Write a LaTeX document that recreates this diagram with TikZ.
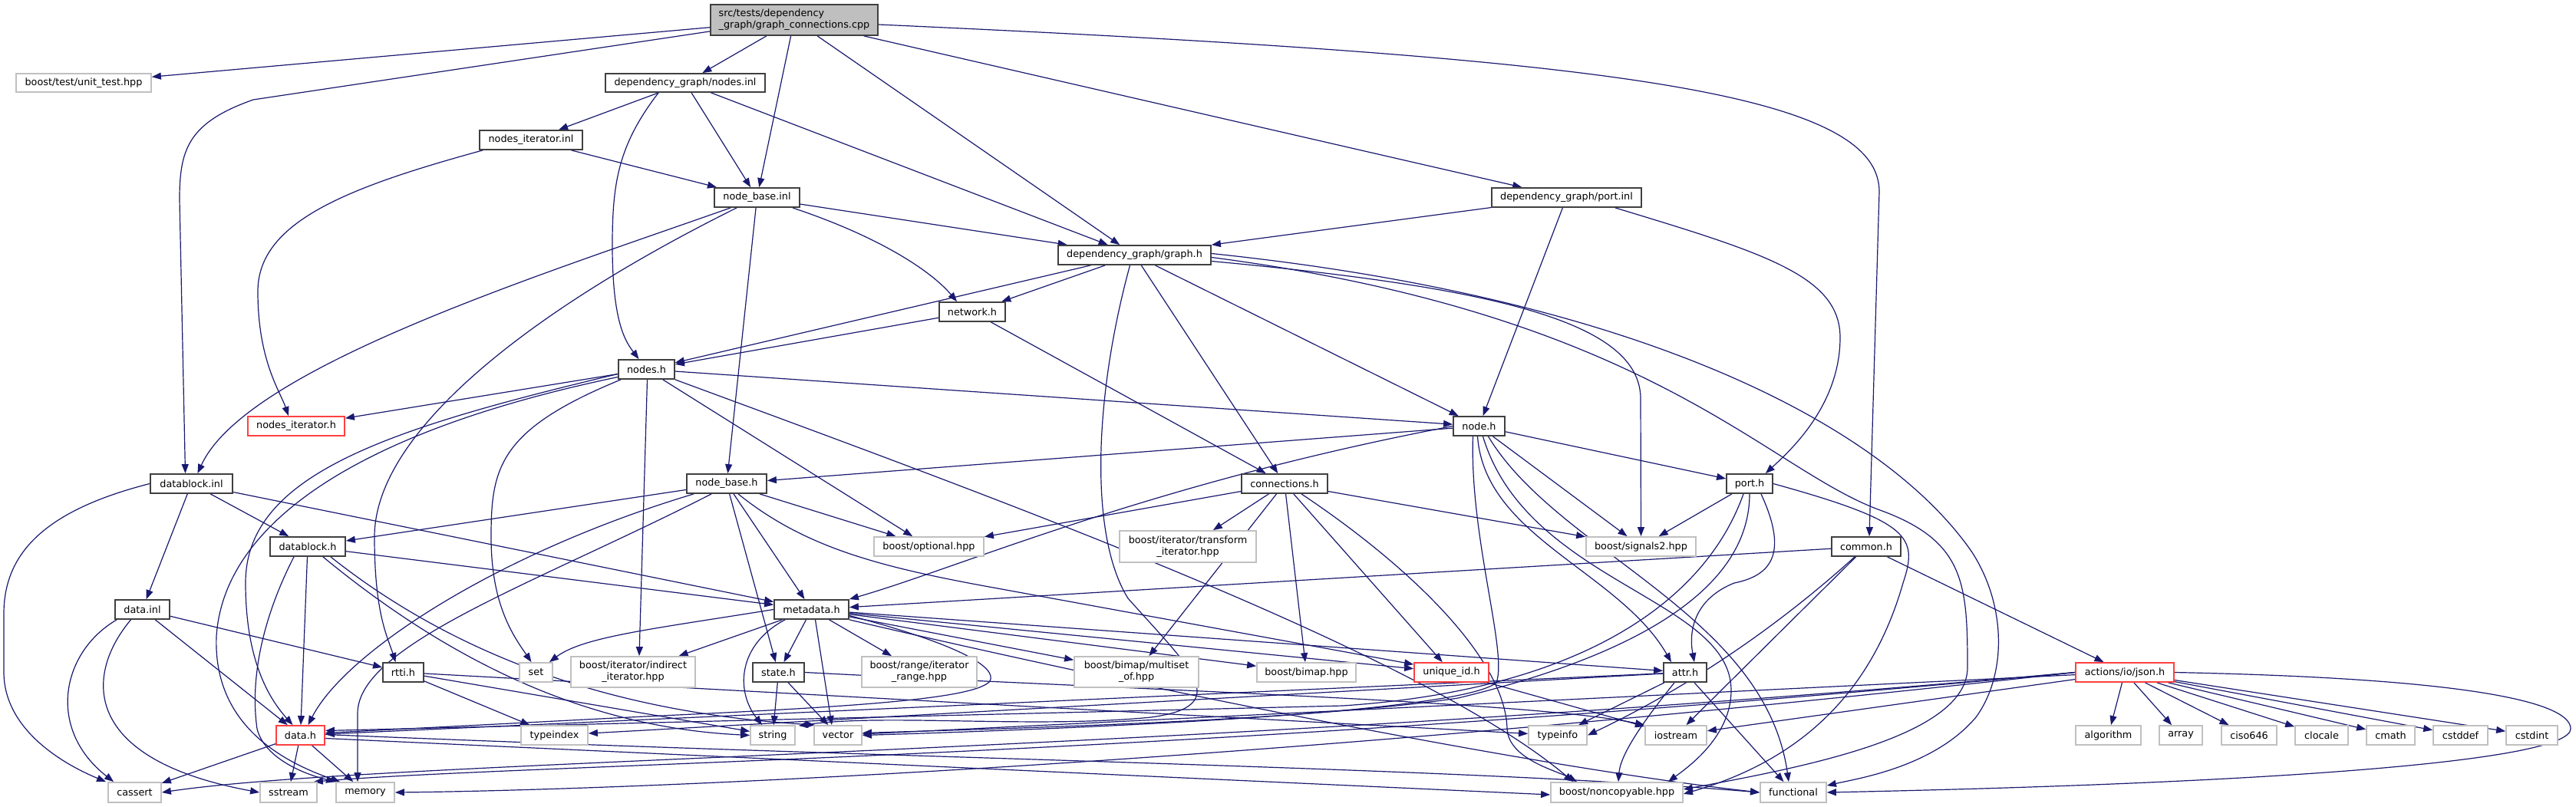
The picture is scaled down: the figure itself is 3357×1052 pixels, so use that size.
\documentclass[tikz,border=0pt]{standalone}
\usepackage{fontspec}
\setmainfont{DejaVu Sans}
\usetikzlibrary{arrows.meta,calc}
\definecolor{edgec}{HTML}{191970}
\definecolor{docc}{HTML}{404040}
\definecolor{extc}{HTML}{C0C0C0}
\definecolor{trc}{HTML}{FF4040}
\definecolor{rootfill}{HTML}{BFBFBF}
\pgfdeclarelayer{bg}\pgfdeclarelayer{edges}\pgfsetlayers{bg,edges,main}
\newcommand\dn[7]{\node[#1,minimum width={(#5)-(#3)},minimum height={(#6)-(#4)}] (#2) at ({((#3)+(#5))/2},{((#4)+(#6))/2}) {#7};}
\begin{document}
\begin{tikzpicture}[x=1pt,y=-1pt,
  docbox/.style={draw=docc,line width=1.8pt,fill=white,inner sep=0pt,text=black,font=\fontsize{12.8}{15}\selectfont},
  extbox/.style={docbox,draw=extc},
  trbox/.style={docbox,draw=trc},
  rootbox/.style={docbox,fill=rootfill},
  dep/.style={draw=edgec,line width=1.2pt,-{Triangle[length=12pt,width=9pt]}}]
\begin{pgfonlayer}{bg}
\fill[white] (0,0) rectangle (3357,1052);
\end{pgfonlayer}
\useasboundingbox (0,0) rectangle (3357,1052);
% nodes
\dn{rootbox,align=left}{src}{926}{6}{1144}{46}{src/tests/dependency\\\_graph/graph\_connections.cpp}
\dn{extbox}{unit}{21}{96}{197}{120}{boost/test/unit\_test.hpp}
\dn{docbox}{nodesinl}{789}{96}{997}{120}{dependency\_graph/nodes.inl}
\dn{docbox}{nitinl}{625}{170}{759}{195}{nodes\_iterator.inl}
\dn{docbox}{nbinl}{931}{245}{1042}{270}{node\_base.inl}
\dn{docbox}{portinl}{1944}{245}{2139}{270}{dependency\_graph/port.inl}
\dn{docbox}{graphh}{1379}{320}{1578}{345}{dependency\_graph/graph.h}
\dn{docbox}{network}{1224}{394}{1310}{419}{network.h}
\dn{docbox}{nodesh}{806}{469}{879}{494}{nodes.h}
\dn{trbox}{nith}{323}{543}{449}{568}{nodes\_iterator.h}
\dn{docbox}{nodeh}{1894}{543}{1961}{568}{node.h}
\dn{docbox}{dbinl}{196}{618}{303}{643}{datablock.inl}
\dn{docbox}{nbh}{895}{618}{999}{643}{node\_base.h}
\dn{docbox}{conn}{1618}{618}{1730}{643}{connections.h}
\dn{docbox}{porth}{2250}{618}{2310}{643}{port.h}
\dn{docbox}{dbh}{352}{700}{450}{725}{datablock.h}
\dn{extbox}{optional}{1139}{700}{1282}{725}{boost/optional.hpp}
\dn{extbox,align=center}{transform}{1459}{692}{1637}{733}{boost/iterator/transform\\\_iterator.hpp}
\dn{extbox}{signals2}{2067}{700}{2210}{725}{boost/signals2.hpp}
\dn{docbox}{common}{2387}{700}{2477}{725}{common.h}
\dn{docbox}{datainl}{150}{782}{221}{807}{data.inl}
\dn{docbox}{metadata}{1009}{782}{1106}{807}{metadata.h}
\dn{docbox}{rtti}{499}{864}{552}{889}{rtti.h}
\dn{extbox}{set}{677}{864}{720}{889}{set}
\dn{extbox,align=center}{indirect}{744}{856}{906}{896}{boost/iterator/indirect\\\_iterator.hpp}
\dn{docbox}{state}{981}{864}{1048}{889}{state.h}
\dn{extbox,align=center}{range}{1123}{856}{1273}{896}{boost/range/iterator\\\_range.hpp}
\dn{extbox,align=center}{multiset}{1400}{856}{1562}{896}{boost/bimap/multiset\\\_of.hpp}
\dn{extbox}{bimap}{1638}{864}{1767}{889}{boost/bimap.hpp}
\dn{trbox}{uid}{1843}{864}{1940}{889}{unique\_id.h}
\dn{docbox}{attr}{2168}{864}{2224}{889}{attr.h}
\dn{trbox}{json}{2705}{864}{2833}{889}{actions/io/json.h}
\dn{trbox}{datah}{360}{946}{423}{971}{data.h}
\dn{extbox}{typeindex}{679}{946}{766}{971}{typeindex}
\dn{extbox}{string}{978}{946}{1036}{971}{string}
\dn{extbox}{vector}{1061}{946}{1123}{971}{vector}
\dn{extbox}{typeinfo}{1992}{946}{2068}{971}{typeinfo}
\dn{extbox}{iostream}{2144}{946}{2224}{971}{iostream}
\dn{extbox}{algorithm}{2705}{946}{2790}{971}{algorithm}
\dn{extbox}{array}{2814}{946}{2870}{971}{array}
\dn{extbox}{ciso}{2895}{946}{2967}{971}{ciso646}
\dn{extbox}{clocale}{2991}{946}{3060}{971}{clocale}
\dn{extbox}{cmath}{3084}{946}{3147}{971}{cmath}
\dn{extbox}{cstddef}{3171}{946}{3242}{971}{cstddef}
\dn{extbox}{cstdint}{3266}{946}{3333}{971}{cstdint}
\dn{extbox}{cassert}{141}{1020}{210}{1046}{cassert}
\dn{extbox}{sstream}{339}{1020}{413}{1046}{sstream}
\dn{extbox}{memory}{438}{1020}{514}{1046}{memory}
\dn{extbox}{noncopyable}{2021}{1020}{2193}{1046}{boost/noncopyable.hpp}
\dn{extbox}{functional}{2294}{1020}{2380}{1046}{functional}
\begin{pgfonlayer}{edges}
% root
\draw[dep] (src) -- (unit);
\draw[dep] ($(src.south west)+(0,-6)$) -- (330,130) .. controls (245,160) and (234,195) .. (234,260) -- ($(dbinl.north)+(-8,0)$);
\draw[dep] (src) -- (nodesinl);
\draw[dep] (src) -- (nbinl);
\draw[dep] (src) -- (graphh);
\draw[dep] (src) -- (portinl);
\draw[dep] ($(src.east)+(0,6)$) .. controls (2100,75) and (2449,120) .. (2449,250) -- ($(common.north)+(4,0)$);
% nodes.inl
\draw[dep] (nodesinl) -- (nitinl);
\draw[dep] (nodesinl) -- (nbinl);
\draw[dep] (nodesinl) -- (graphh);
\draw[dep] ($(nodesinl.south west)+(70,0)$) .. controls (805,190) and (798,240) .. (798,320) .. controls (798,420) and (815,445) .. ($(nodesh.north)+(-10,0)$);
% nodes_iterator.inl
\draw[dep] (nitinl) -- (nbinl);
\draw[dep] ($(nitinl.south west)+(5,0)$) .. controls (450,245) and (336,290) .. (336,380) .. controls (336,470) and (365,510) .. ($(nith.north)+(-10,0)$);
% node_base.inl
\draw[dep] (nbinl) -- (graphh);
\draw[dep] ($(nbinl.south east)+(-10,0)$) .. controls (1150,310) and (1215,355) .. ($(network.north)+(-20,0)$);
\draw[dep] ($(nbinl.south west)+(22,0)$) .. controls (700,360) and (320,480) .. ($(dbinl.north)+(8,0)$);
\draw[dep] ($(nbinl.south west)+(30,0)$) .. controls (700,400) and (488,560) .. (488,700) .. controls (488,800) and (505,830) .. ($(rtti.north)+(-10,0)$);
\draw[dep] (nbinl) -- (nbh);
% port.inl
\draw[dep] (portinl) -- (graphh);
\draw[dep] (portinl) -- (nodeh);
\draw[dep] ($(portinl.south east)+(-35,0)$) .. controls (2300,330) and (2398,360) .. (2398,440) .. controls (2398,530) and (2330,590) .. ($(porth.north east)+(-10,0)$);
% graph.h
\draw[dep] (graphh) -- (network);
\draw[dep] (graphh) -- (nodesh);
\draw[dep] (graphh) -- (nodeh);
\draw[dep] (graphh) -- (conn);
\draw[dep] ($(graphh.east)+(0,8)$) .. controls (1950,375) and (2138,420) .. (2138,520) -- (signals2.north);
\draw[dep] ($(graphh.east)+(0,3)$) .. controls (2150,410) and (2300,610) .. (2450,665) .. controls (2560,705) and (2564,760) .. (2564,870) .. controls (2564,960) and (2350,1000) .. ($(noncopyable.east)+(0,-4)$);
\draw[dep] ($(graphh.east)+(0,-2)$) .. controls (2150,390) and (2460,560) .. (2570,720) .. controls (2615,790) and (2615,880) .. (2575,935) .. controls (2520,1000) and (2420,1015) .. ($(functional.north east)+(0,5)$);
\draw[dep] ($(graphh.south)+(-6,0)$) .. controls (1425,520) and (1420,700) .. (1470,780) .. controls (1550,870) and (1610,920) .. (1500,935) .. controls (1350,950) and (1150,930) .. ($(string.north east)+(4,1)$);
% network.h
\draw[dep] (network) -- (nodesh);
\draw[dep] (network) -- (conn);
% nodes.h
\draw[dep] (nodesh) -- (nith);
\draw[dep] (nodesh) -- (nodeh);
\draw[dep] (nodesh) -- (optional);
\draw[dep] ($(nodesh.south)+(1,0)$) -- ($(indirect.north)+(8,0)$);
\draw[dep] ($(nodesh.south west)+(4,0)$) .. controls (650,560) and (640,610) .. (640,700) .. controls (640,790) and (670,830) .. ($(set.north)+(-6,0)$);
\draw[dep] ($(nodesh.west)+(0,6)$) .. controls (500,560) and (320,620) .. (320,760) .. controls (320,860) and (350,910) .. ($(datah.north)+(-10,0)$);
\draw[dep] ($(nodesh.west)+(0,10)$) .. controls (430,570) and (290,700) .. (282,830) .. controls (278,940) and (360,990) .. ($(memory.north west)+(6,0)$);
\draw[dep] (nodesh.south east) .. controls (1300,650) and (1850,850) .. ($(noncopyable.north west)+(30,0)$);
% node.h
\draw[dep] (nodeh) -- (nbh);
\draw[dep] (nodeh.west) .. controls (1500,630) and (1250,740) .. (metadata.north east);
\draw[dep] (nodeh) -- (porth);
\draw[dep] (nodeh) -- (signals2);
\draw[dep] ($(nodeh.south)+(-2,0)$) .. controls (1935,700) and (2110,745) .. ($(attr.north)+(-18,0)$);
\draw[dep] ($(nodeh.south)+(5,0)$) .. controls (1990,760) and (2256,780) .. (2256,900) .. controls (2256,960) and (2200,1000) .. ($(noncopyable.north east)+(-20,0)$);
\draw[dep] ($(nodeh.south)+(12,0)$) .. controls (2030,720) and (2300,800) .. ($(functional.north)+(-6,0)$);
\draw[dep] ($(nodeh.south)+(-8,0)$) .. controls (1915,700) and (1965,850) .. (1950,890) .. controls (1900,930) and (1400,950) .. (vector.east);
% datablock.inl
\draw[dep] (dbinl.west) .. controls (60,665) and (5,720) .. (5,800) -- (5,876) .. controls (5,950) and (80,995) .. ($(cassert.north west)+(-2,0)$);
\draw[dep] (dbinl) -- (datainl);
\draw[dep] (dbinl) -- (dbh);
\draw[dep] (dbinl) -- (metadata);
% node_base.h
\draw[dep] (nbh) -- (dbh);
\draw[dep] ($(nbh.south west)+(10,0)$) .. controls (650,720) and (450,850) .. ($(datah.north)+(10,0)$);
\draw[dep] ($(nbh.south west)+(33,0)$) .. controls (700,760) and (466,840) .. (466,930) -- ($(memory.north)+(-10,0)$);
\draw[dep] (nbh) -- (optional);
\draw[dep] (nbh) -- (metadata);
\draw[dep] (nbh) -- (state);
\draw[dep] ($(nbh.south)+(15,0)$) .. controls (1050,715) and (1150,740) .. (1300,767) -- ($(uid.north west)+(0,3)$);
% connections.h
\draw[dep] (conn) -- (optional);
\draw[dep] (conn) -- (transform);
\draw[dep] (conn) -- (multiset);
\draw[dep] (conn) -- (bimap);
\draw[dep] (conn) -- (uid);
\draw[dep] ($(conn.south)+(22,0)$) .. controls (1840,740) and (1962,860) .. (1964,950) .. controls (1966,990) and (2030,1005) .. ($(noncopyable.north west)+(35,0)$);
\draw[dep] (conn) -- (signals2);
% port.h
\draw[dep] (porth) -- (signals2);
\draw[dep] ($(porth.south)+(15,0)$) .. controls (2330,720) and (2310,750) .. (2260,760) .. controls (2210,780) and (2200,820) .. ($(attr.north)+(12,0)$);
\draw[dep] (porth.east) .. controls (2490,680) and (2500,700) .. (2480,760) .. controls (2440,900) and (2350,990) .. ($(noncopyable.east)+(0,2)$);
\draw[dep] ($(porth.south)+(-8,0)$) .. controls (2220,790) and (2050,900) .. (1750,920) -- ($(datah.east)+(0,-6)$);
\draw[dep] (porth.south) .. controls (2280,760) and (2150,850) .. (1900,910) .. controls (1700,940) and (1300,950) .. ($(vector.east)+(0,-3)$);
% datablock.h
\draw[dep] (dbh) -- (datah);
\draw[dep] ($(dbh.south)+(-18,0)$) .. controls (345,800) and (325,880) .. (335,950) .. controls (345,990) and (400,1010) .. (memory.north west);
\draw[dep] (dbh) -- (metadata);
\draw[dep] ($(dbh.south east)+(-30,0)$) .. controls (620,890) and (800,950) .. (string.west);
\draw[dep] ($(dbh.south east)+(-20,0)$) .. controls (650,900) and (900,935) .. ($(vector.north west)+(2,0)$);
% common.h
\draw[dep] (common) -- (metadata);
\draw[dep] ($(common.south)+(-15,0)$) .. controls (2280,850) and (2150,920) .. (typeinfo.east);
\draw[dep] (common) -- (iostream);
\draw[dep] (common) -- (json);
% data.inl
\draw[dep] ($(datainl.south west)+(3,0)$) .. controls (80,850) and (60,950) .. ($(cassert.north west)+(8,0)$);
\draw[dep] ($(datainl.south)+(-15,0)$) .. controls (110,880) and (105,990) .. (sstream.west);
\draw[dep] (datainl) -- (datah);
\draw[dep] (datainl) -- (rtti);
% metadata.h
\draw[dep] (metadata.west) .. controls (850,820) and (760,830) .. ($(set.north east)+(-5,0)$);
\draw[dep] (metadata) -- (indirect);
\draw[dep] (metadata) -- (state);
\draw[dep] (metadata) -- (range);
\draw[dep] (metadata) -- (multiset);
\draw[dep] (metadata) -- (bimap);
\draw[dep] (metadata) -- (uid);
\draw[dep] (metadata) -- (attr);
\draw[dep] ($(metadata.south west)+(15,0)$) .. controls (962,840) and (958,900) .. ($(string.north)+(-14,0)$);
\draw[dep] ($(metadata.south)+(5,0)$) -- ($(vector.north)+(-8,0)$);
\draw[dep] ($(metadata.east)+(0,8)$) .. controls (1250,840) and (1300,870) .. (1290,888) .. controls (1270,912) and (1100,922) .. (840,934) -- ($(datah.east)+(0,-3)$);
\draw[dep] (metadata.south east) .. controls (1500,900) and (2000,1000) .. (functional.west);
% rtti.h
\draw[dep] (rtti) -- (typeindex);
\draw[dep] (rtti) -- (string);
\draw[dep] (rtti) -- (typeinfo);
% state.h
\draw[dep] (state) -- (string);
\draw[dep] (state) -- (vector);
\draw[dep] (state.east) .. controls (1500,900) and (2000,915) .. (iostream.north west);
% unique_id.h
\draw[dep] (uid) -- (iostream);
% attr.h
\draw[dep] (attr) -- (typeinfo);
\draw[dep] (attr) -- (functional);
\draw[dep] ($(attr.south)+(-14,0)$) .. controls (2150,930) and (2112,980) .. ($(noncopyable.north)+(2,0)$);
\draw[dep] (attr) -- (typeindex);
\draw[dep] (attr) -- (datah);
% json.h
\draw[dep] (json) -- (algorithm);
\draw[dep] (json) -- (array);
\draw[dep] (json) -- (ciso);
\draw[dep] (json) -- (clocale);
\draw[dep] (json) -- (cmath);
\draw[dep] (json) -- (cstddef);
\draw[dep] (json) -- (cstdint);
\draw[dep] (json.east) .. controls (3250,885) and (3350,920) .. (3350,950) .. controls (3350,990) and (3000,1020) .. (functional.east);
\draw[dep] (json) -- (iostream);
\draw[dep] (json) -- (vector);
\draw[dep] (json.west) .. controls (1600,1000) and (800,1030) .. (memory.east);
\draw[dep] (json.west) .. controls (1500,990) and (700,995) .. ($(sstream.north east)+(-5,0)$);
\draw[dep] (json.west) .. controls (1500,985) and (500,990) .. (cassert.east);
% data.h
\draw[dep] (datah) -- (cassert);
\draw[dep] (datah) -- (sstream);
\draw[dep] (datah) -- (memory);
\draw[dep] ($(datah.east)+(0,4)$) -- ($(noncopyable.west)+(0,3)$);
\draw[dep] ($(datah.east)+(0,-1)$) .. controls (1200,990) and (1900,1000) .. (functional.west);
\end{pgfonlayer}
\end{tikzpicture}
\end{document}
